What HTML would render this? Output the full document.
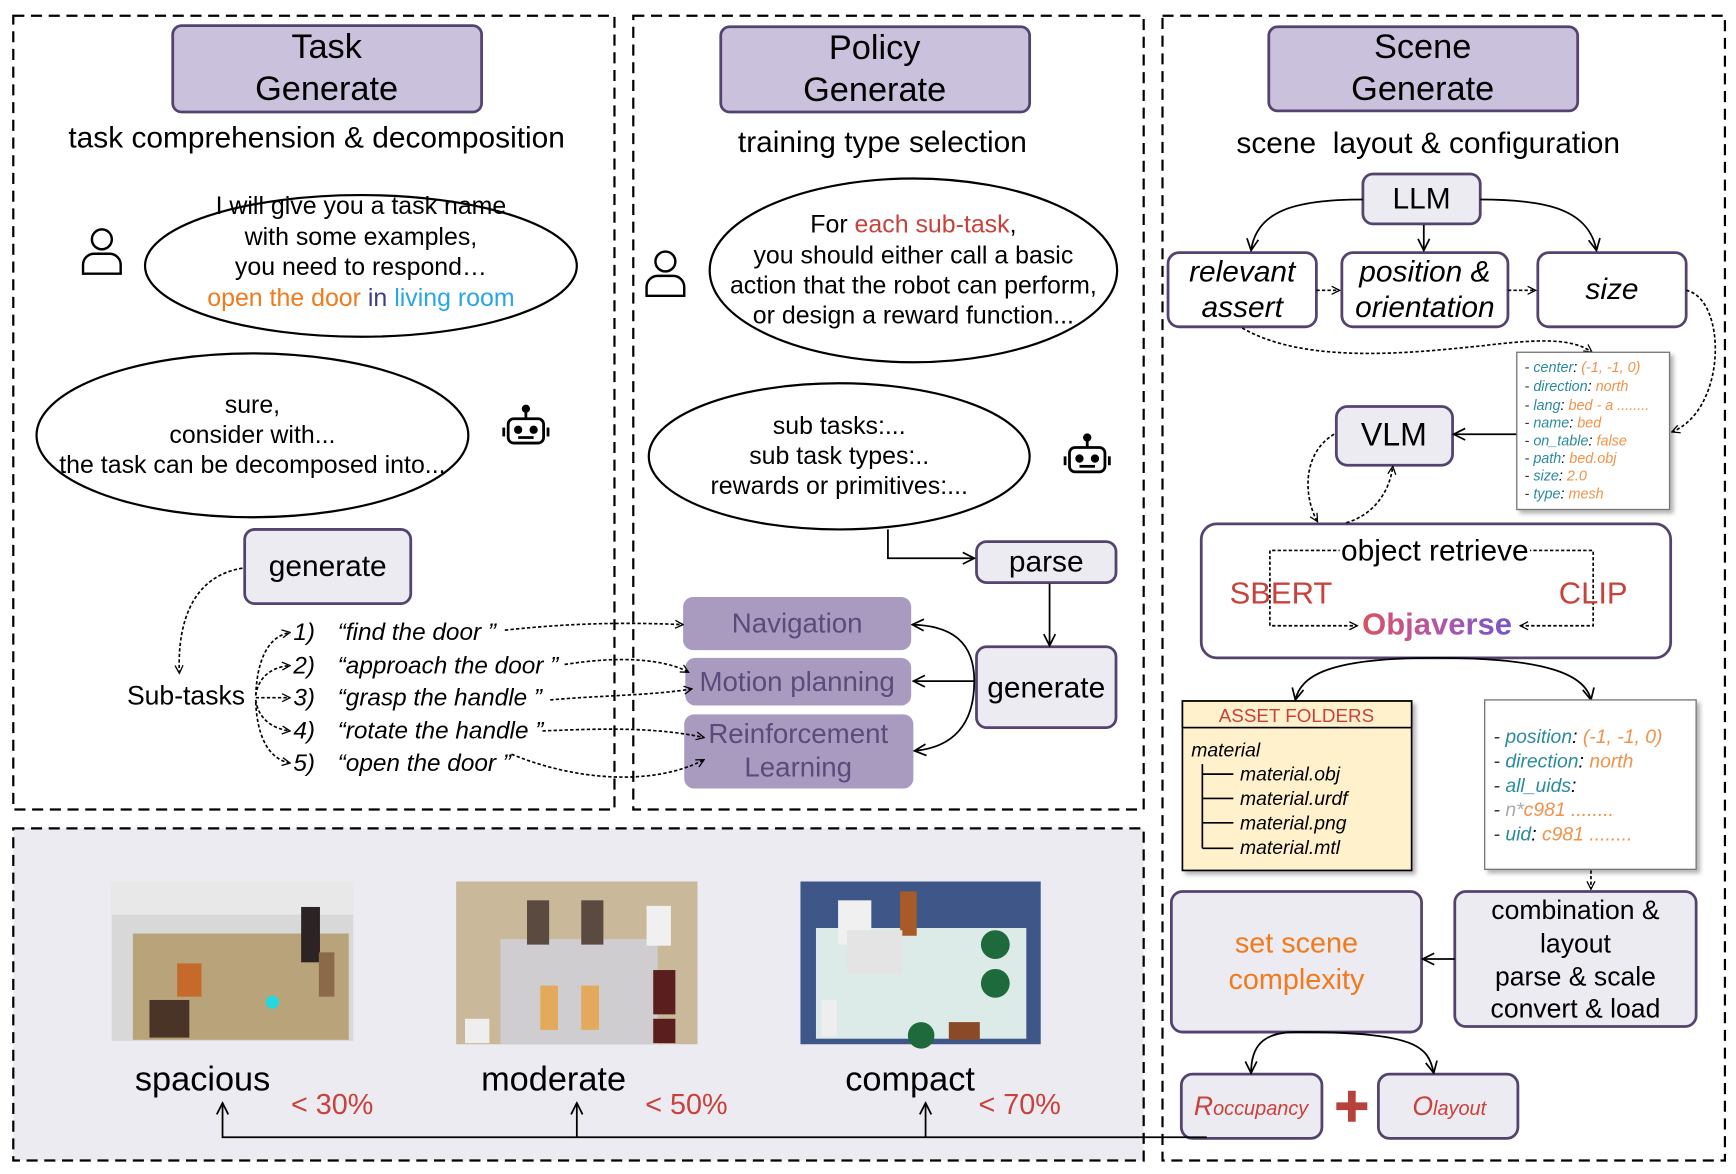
<!DOCTYPE html>
<html><head><meta charset="utf-8"><style>
html,body{margin:0;padding:0;background:#fff}
svg{display:block}
text{font-family:"Liberation Sans",Arial,sans-serif}
</style></head><body>
<svg width="1736" height="1174" viewBox="0 0 1568 1060" xmlns="http://www.w3.org/2000/svg">
<defs>
<marker id="a" viewBox="0 0 10 10" refX="9" refY="5" markerWidth="9" markerHeight="9" orient="auto-start-reverse" markerUnits="userSpaceOnUse"><path d="M1,1 L9,5 L1,9" fill="none" stroke="#000" stroke-width="1.3"/></marker>
<marker id="ab" viewBox="0 0 10 10" refX="9" refY="5" markerWidth="13" markerHeight="13" orient="auto-start-reverse" markerUnits="userSpaceOnUse"><path d="M1,1 L9,5 L1,9" fill="none" stroke="#000" stroke-width="1.2"/></marker>
<filter id="sh" x="-10%" y="-10%" width="130%" height="130%"><feDropShadow dx="3" dy="3" stdDeviation="2" flood-color="#000" flood-opacity="0.3"/></filter>
</defs>

<rect x="12" y="748" width="1021" height="300" fill="#ecebf1" stroke="#000" stroke-width="2" stroke-dasharray="10,6"/>
<rect x="12" y="14" width="543" height="717" fill="none" stroke="#000" stroke-width="2" stroke-dasharray="10,6"/>
<rect x="572" y="14" width="461" height="717" fill="none" stroke="#000" stroke-width="2" stroke-dasharray="10,6"/>
<rect x="1050" y="14" width="508" height="1034" fill="none" stroke="#000" stroke-width="2" stroke-dasharray="10,6"/>

<g stroke="#54436f" stroke-width="2.5" fill="#cac1dc">
<rect x="156" y="23" width="279" height="78" rx="8"/>
<rect x="651" y="24" width="279" height="77" rx="8"/>
<rect x="1146" y="24" width="279" height="76" rx="8"/>
</g>
<g font-size="31" text-anchor="middle">
<text x="295" y="52">Task</text><text x="295" y="90">Generate</text>
<text x="790" y="53">Policy</text><text x="790" y="91">Generate</text>
<text x="1285" y="52">Scene</text><text x="1285" y="90">Generate</text>
</g>
<g font-size="27" text-anchor="middle">
<text x="286" y="133">task comprehension &amp; decomposition</text>
<text x="797" y="137">training type selection</text>
<text x="1290" y="138" xml:space="preserve">scene  layout &amp; configuration</text>
</g>

<g fill="none" stroke="#000" stroke-width="2">
<ellipse cx="326" cy="240" rx="195" ry="64"/>
<ellipse cx="228" cy="393" rx="195" ry="74"/>
<ellipse cx="825" cy="244" rx="184" ry="83"/>
<ellipse cx="758" cy="412" rx="172" ry="66"/>
</g>
<g font-size="22.5" text-anchor="middle">
<text x="326" y="193">I will give you a task name</text>
<text x="326" y="221">with some examples,</text>
<text x="326" y="248">you need to respond…</text>
<text x="326" y="276"><tspan fill="#f07a1c">open the door</tspan> <tspan fill="#3c3c8c">in</tspan> <tspan fill="#2aa6e6">living room</tspan></text>
<text x="228" y="373">sure,</text>
<text x="228" y="400">consider with...</text>
<text x="228" y="427">the task can be decomposed into...</text>
<text x="825" y="210"><tspan>For </tspan><tspan fill="#c8423c">each sub-task</tspan>,</text>
<text x="825" y="238">you should either call a basic</text>
<text x="825" y="265">action that the robot can perform,</text>
<text x="825" y="292">or design a reward function...</text>
<text x="758" y="392">sub tasks:...</text>
<text x="758" y="419">sub task types:..</text>
<text x="758" y="446">rewards or primitives:...</text>
</g>

<g fill="none" stroke="#000" stroke-width="2.2">
<circle cx="92" cy="216" r="9"/><path d="M75,247 v-8 a10,10 0 0 1 10,-10 h14 a10,10 0 0 1 10,10 v8 z"/>
<circle cx="601" cy="236" r="9"/><path d="M584,267 v-8 a10,10 0 0 1 10,-10 h14 a10,10 0 0 1 10,10 v8 z"/>
</g>
<g fill="none" stroke="#000" stroke-width="2.5">
<g transform="translate(475,388)"><rect x="-16" y="-10" width="32" height="22" rx="5"/><line x1="0" y1="-10" x2="0" y2="-17"/><circle cx="0" cy="-19" r="2.5" fill="#000"/><line x1="-20" y1="-2" x2="-20" y2="6"/><line x1="20" y1="-2" x2="20" y2="6"/><circle cx="-7" cy="0" r="2.5" fill="#000"/><circle cx="7" cy="0" r="2.5" fill="#000"/><line x1="-7" y1="7" x2="7" y2="7"/></g>
<g transform="translate(982,414)"><rect x="-16" y="-10" width="32" height="22" rx="5"/><line x1="0" y1="-10" x2="0" y2="-17"/><circle cx="0" cy="-19" r="2.5" fill="#000"/><line x1="-20" y1="-2" x2="-20" y2="6"/><line x1="20" y1="-2" x2="20" y2="6"/><circle cx="-7" cy="0" r="2.5" fill="#000"/><circle cx="7" cy="0" r="2.5" fill="#000"/><line x1="-7" y1="7" x2="7" y2="7"/></g>
</g>

<g fill="#ecebf1" stroke="#54436f" stroke-width="2.5">
<rect x="221" y="478" width="150" height="67" rx="9"/>
<rect x="882" y="489" width="126" height="37" rx="9"/>
<rect x="882" y="584" width="126" height="73" rx="9"/>
<rect x="1231" y="157" width="106" height="45" rx="9"/>
<rect x="1207" y="367" width="105" height="53" rx="10"/>
<rect x="1058" y="805" width="226" height="127" rx="10"/>
<rect x="1314" y="805" width="218" height="122" rx="10"/>
<rect x="1067" y="970" width="127" height="58" rx="10"/>
<rect x="1245" y="970" width="126" height="58" rx="10"/>
</g>
<g fill="#fff" stroke="#54436f" stroke-width="2.5">
<rect x="1055" y="228" width="134" height="67" rx="10"/>
<rect x="1212" y="228" width="150" height="67" rx="10"/>
<rect x="1389" y="228" width="134" height="67" rx="10"/>
<rect x="1085" y="473" width="424" height="121" rx="14"/>
</g>
<g font-size="27" text-anchor="middle">
<text x="296" y="520">generate</text>
<text x="945" y="516">parse</text>
<text x="945" y="630">generate</text>
<text x="1284" y="188">LLM</text>
<text x="1259" y="402" font-size="29">VLM</text>
</g>
<g font-size="27" text-anchor="middle" font-style="italic">
<text x="1122" y="254">relevant</text><text x="1122" y="286">assert</text>
<text x="1287" y="254">position &amp;</text><text x="1287" y="286">orientation</text>
<text x="1456" y="270">size</text>
</g>

<g fill="#a99bc0">
<rect x="617" y="539" width="206" height="48" rx="9"/>
<rect x="619" y="594" width="204" height="43" rx="9"/>
<rect x="618" y="645" width="207" height="67" rx="9"/>
</g>
<g font-size="25" fill="#5b4a7a" text-anchor="middle">
<text x="720" y="571">Navigation</text>
<text x="720" y="624">Motion planning</text>
<text x="721" y="671">Reinforcement</text>
<text x="721" y="701">Learning</text>
</g>

<text x="168" y="636" font-size="24" text-anchor="middle">Sub-tasks</text>
<g font-size="22" font-style="italic">
<text x="265" y="578">1)</text><text x="305" y="578">“find the door ”</text>
<text x="265" y="608">2)</text><text x="305" y="608">“approach the door ”</text>
<text x="265" y="637">3)</text><text x="305" y="637">“grasp the handle ”</text>
<text x="265" y="667">4)</text><text x="305" y="667">“rotate the handle ”</text>
<text x="265" y="696">5)</text><text x="305" y="696">“open the door ”</text>
</g>
<g fill="none" stroke="#000" stroke-width="1.5" stroke-dasharray="3,2">
<path d="M219,513 C175,520 160,560 162,608" marker-end="url(#a)"/>
<path d="M231,628 C232,600 240,575 262,571" marker-end="url(#a)"/>
<path d="M231,628 C233,612 245,602 262,601" marker-end="url(#a)"/>
<path d="M231,630 L262,630" marker-end="url(#a)"/>
<path d="M231,632 C233,648 245,658 262,660" marker-end="url(#a)"/>
<path d="M231,634 C232,660 240,685 262,689" marker-end="url(#a)"/>
<path d="M456,569 C520,562 570,562 617,564" marker-end="url(#a)"/>
<path d="M510,600 C560,592 600,595 622,607" marker-end="url(#a)"/>
<path d="M497,632 C540,628 590,628 625,622" marker-end="url(#a)"/>
<path d="M490,660 C540,658 590,656 636,666" marker-end="url(#a)"/>
<path d="M462,681 C520,705 590,710 636,686" marker-end="url(#a)"/>
</g>
<g fill="none" stroke="#000" stroke-width="1.6">
<path d="M802,478 L802,504 L880,504" marker-end="url(#ab)"/>
<path d="M948,527 L948,583" marker-end="url(#ab)"/>
<path d="M880,615 L825,615" marker-end="url(#ab)"/>
<path d="M880,615 C880,580 860,565 824,564" marker-end="url(#ab)"/>
<path d="M880,615 C880,655 860,675 826,678" marker-end="url(#ab)"/>
</g>

<g fill="none" stroke="#000" stroke-width="1.6">
<path d="M1231,180 C1170,180 1135,190 1130,226" marker-end="url(#ab)"/>
<path d="M1337,180 C1400,180 1435,190 1442,226" marker-end="url(#ab)"/>
<path d="M1286,203 L1286,226" marker-end="url(#ab)"/>
<path d="M1370,392 L1313,392" marker-end="url(#ab)"/>
<path d="M1297,594 C1200,594 1175,610 1170,632" marker-end="url(#ab)"/>
<path d="M1297,594 C1400,594 1432,610 1437,632" marker-end="url(#ab)"/>
<path d="M1314,866 L1285,866" marker-end="url(#ab)"/>
<path d="M1171,932 C1140,932 1130,945 1130,969" marker-end="url(#ab)"/>
<path d="M1171,932 C1280,932 1290,945 1295,969" marker-end="url(#ab)"/>
<path d="M1090,1027 L201,1027 L201,996" marker-end="url(#ab)"/>
<path d="M521,1027 L521,996" marker-end="url(#ab)"/>
<path d="M836,1027 L836,996" marker-end="url(#ab)"/>
</g>
<g fill="none" stroke="#000" stroke-width="1.5" stroke-dasharray="3,2">
<path d="M1189,262 L1210,262" marker-end="url(#a)"/>
<path d="M1362,262 L1387,262" marker-end="url(#a)"/>
<path d="M1122,296 C1180,330 1280,318 1340,312 C1390,306 1420,305 1438,318" marker-end="url(#a)"/>
<path d="M1523,262 C1560,270 1560,370 1510,390" marker-end="url(#a)"/>
<path d="M1205,392 C1175,410 1178,450 1190,471" marker-end="url(#a)"/>
<path d="M1216,472 C1240,465 1255,445 1258,421" marker-end="url(#a)"/>
<path d="M1212,497 L1147,497 L1147,565 L1226,565" marker-end="url(#a)"/>
<path d="M1380,497 L1439,497 L1439,565 L1373,565" marker-end="url(#a)"/>
<path d="M1437,786 L1437,803" marker-end="url(#a)"/>
</g>

<rect x="1210" y="480" width="172" height="30" fill="#fff"/>
<text x="1296" y="506" font-size="27" text-anchor="middle">object retrieve</text>
<text x="1157" y="545" font-size="28" fill="#c8423c" text-anchor="middle">SBERT</text>
<text x="1439" y="545" font-size="28" fill="#c8423c" text-anchor="middle">CLIP</text>
<defs><linearGradient id="og" x1="0" x2="1"><stop offset="0" stop-color="#d9535f"/><stop offset="0.5" stop-color="#b456a6"/><stop offset="1" stop-color="#7257c9"/></linearGradient></defs>
<text x="1298" y="573" font-size="28" font-weight="bold" fill="url(#og)" text-anchor="middle">Objaverse</text>

<rect x="1370" y="318" width="138" height="142" fill="#fff" stroke="#777" stroke-width="1.2" filter="url(#sh)"/>
<g font-size="13" font-style="italic">
<text x="1377" y="336"><tspan fill="#333">-  </tspan><tspan fill="#2a8aa0">center</tspan>: <tspan fill="#f0924a">(-1, -1, 0)</tspan></text>
<text x="1377" y="353"><tspan fill="#333">-  </tspan><tspan fill="#2a8aa0">direction</tspan>: <tspan fill="#f0924a">north</tspan></text>
<text x="1377" y="370"><tspan fill="#333">-  </tspan><tspan fill="#2a8aa0">lang</tspan>: <tspan fill="#f0924a">bed - a ........</tspan></text>
<text x="1377" y="386"><tspan fill="#333">-  </tspan><tspan fill="#2a8aa0">name</tspan>: <tspan fill="#f0924a">bed</tspan></text>
<text x="1377" y="402"><tspan fill="#333">-  </tspan><tspan fill="#2a8aa0">on_table</tspan>: <tspan fill="#f0924a">false</tspan></text>
<text x="1377" y="418"><tspan fill="#333">-  </tspan><tspan fill="#2a8aa0">path</tspan>: <tspan fill="#f0924a">bed.obj</tspan></text>
<text x="1377" y="434"><tspan fill="#333">-  </tspan><tspan fill="#2a8aa0">size</tspan>: <tspan fill="#f0924a">2.0</tspan></text>
<text x="1377" y="450"><tspan fill="#333">-  </tspan><tspan fill="#2a8aa0">type</tspan>: <tspan fill="#f0924a">mesh</tspan></text>
</g>

<g filter="url(#sh)"><rect x="1068" y="633" width="207" height="153" fill="#fff1cc" stroke="#000" stroke-width="1.5"/></g>
<rect x="1068" y="633" width="207" height="24" fill="#fff1cc" stroke="#000" stroke-width="1.5"/>
<text x="1171" y="652" font-size="17" fill="#c8423c" text-anchor="middle">ASSET FOLDERS</text>
<g font-size="17.5" font-style="italic">
<text x="1076" y="683">material</text>
<text x="1120" y="705">material.obj</text>
<text x="1120" y="727">material.urdf</text>
<text x="1120" y="749">material.png</text>
<text x="1120" y="771">material.mtl</text>
</g>
<path d="M1086,690 V766 M1086,699 H1114 M1086,721 H1114 M1086,743 H1114 M1086,766 H1114" stroke="#000" stroke-width="1.5" fill="none"/>

<rect x="1341" y="632" width="191" height="153" fill="#fff" stroke="#777" stroke-width="1.2" filter="url(#sh)"/>
<g font-size="17.5" font-style="italic">
<text x="1349" y="671"><tspan fill="#333">- </tspan><tspan fill="#2a8aa0">position</tspan>: <tspan fill="#f0924a">(-1, -1, 0)</tspan></text>
<text x="1349" y="693"><tspan fill="#333">- </tspan><tspan fill="#2a8aa0">direction</tspan>: <tspan fill="#f0924a">north</tspan></text>
<text x="1349" y="715"><tspan fill="#333">- </tspan><tspan fill="#2a8aa0">all_uids</tspan>:</text>
<text x="1349" y="737"><tspan fill="#333">- </tspan><tspan fill="#aaa">n*</tspan><tspan fill="#f0924a">c981 ........</tspan></text>
<text x="1349" y="759"><tspan fill="#333">- </tspan><tspan fill="#2a8aa0">uid</tspan>: <tspan fill="#f0924a">c981 ........</tspan></text>
</g>

<g font-size="26" text-anchor="middle" fill="#f07a1c">
<text x="1171" y="860">set scene</text><text x="1171" y="893">complexity</text>
</g>
<g font-size="24" text-anchor="middle">
<text x="1423" y="830">combination &amp;</text>
<text x="1423" y="860">layout</text>
<text x="1423" y="890">parse &amp; scale</text>
<text x="1423" y="919">convert &amp; load</text>
</g>
<text x="1130" y="1007" font-size="24" font-style="italic" fill="#c8423c" text-anchor="middle">R<tspan font-size="18">occupancy</tspan></text>
<text x="1309" y="1007" font-size="24" font-style="italic" fill="#c8423c" text-anchor="middle">O<tspan font-size="18">layout</tspan></text>
<path d="M1221,985 V1013 M1207,999 H1235" stroke="#b5433c" stroke-width="7"/>

<g>
<rect x="101" y="796" width="218" height="144" fill="#d8d8d8"/>
<rect x="120" y="843" width="195" height="96" fill="#b9a37a"/>
<rect x="101" y="796" width="218" height="30" fill="#e8e8e8"/>
<rect x="272" y="819" width="17" height="50" fill="#2c2424"/>
<rect x="160" y="870" width="22" height="30" fill="#c66a2c"/>
<rect x="135" y="903" width="36" height="34" fill="#4a3428"/>
<circle cx="246" cy="905" r="6" fill="#27d7e0"/>
<rect x="288" y="860" width="14" height="40" fill="#8a6a48"/>
</g>
<g>
<rect x="412" y="796" width="218" height="147" fill="#c9b89a"/>
<rect x="452" y="848" width="142" height="95" fill="#cfcdcf"/>
<rect x="476" y="813" width="20" height="40" fill="#5a4a40"/>
<rect x="525" y="813" width="20" height="40" fill="#5a4a40"/>
<rect x="584" y="818" width="22" height="36" fill="#f0f0f0"/>
<rect x="590" y="876" width="20" height="40" fill="#5a1e1e"/>
<rect x="590" y="920" width="20" height="22" fill="#5a1e1e"/>
<rect x="488" y="890" width="16" height="40" fill="#e3a95c"/>
<rect x="525" y="890" width="16" height="40" fill="#e3a95c"/>
<rect x="420" y="920" width="22" height="22" fill="#eee"/>
</g>
<g>
<rect x="723" y="796" width="217" height="147" fill="#3f5788"/>
<rect x="737" y="838" width="190" height="100" fill="#dceae8"/>
<rect x="757" y="813" width="30" height="40" fill="#f0f0f0"/>
<rect x="813" y="805" width="15" height="40" fill="#a85a28"/>
<rect x="765" y="840" width="50" height="40" fill="#e4e4e4"/>
<circle cx="899" cy="853" r="13" fill="#1e6a3c"/>
<circle cx="899" cy="888" r="13" fill="#1e6a3c"/>
<circle cx="832" cy="935" r="12" fill="#1e6a3c"/>
<rect x="742" y="903" width="14" height="33" fill="#eee"/>
<rect x="857" y="923" width="28" height="16" fill="#8a4a28"/>
</g>
<g font-size="31" text-anchor="middle">
<text x="183" y="985">spacious</text>
<text x="500" y="985">moderate</text>
<text x="822" y="985">compact</text>
</g>
<g font-size="26" fill="#c8423c" text-anchor="middle">
<text x="300" y="1006">&lt; 30%</text>
<text x="620" y="1006">&lt; 50%</text>
<text x="921" y="1006">&lt; 70%</text>
</g>
</svg>
</body></html>
